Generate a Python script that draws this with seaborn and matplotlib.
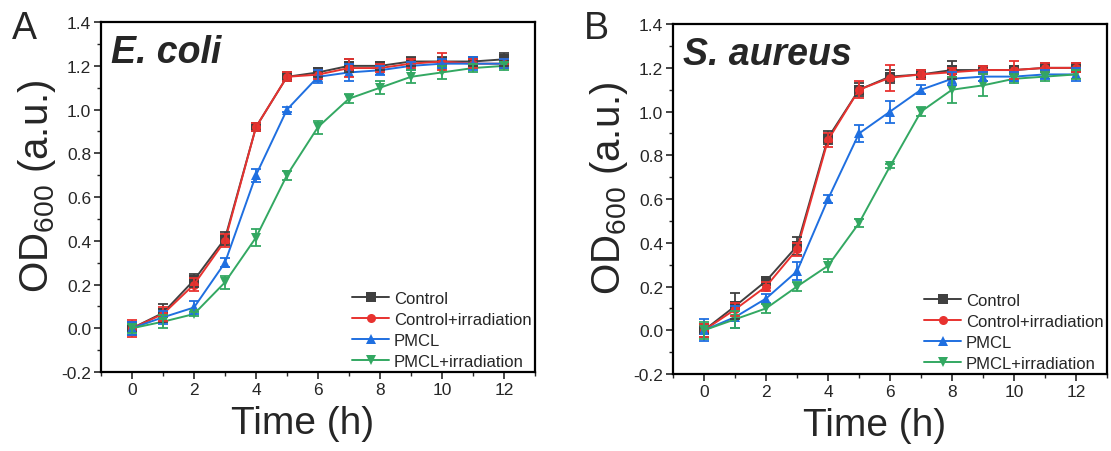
import numpy as np
import pandas as pd
import seaborn as sns
import matplotlib.pyplot as plt
from matplotlib.ticker import MultipleLocator

# time points (h)
time_h = [0, 1, 2, 3, 4, 5, 6, 7, 8, 9, 10, 11, 12]
groups = ["Control", "Control+irradiation", "PMCL", "PMCL+irradiation"]

# E. coli OD600 means and error bars
ecoli_control = [0.00, 0.07, 0.22, 0.41, 0.92, 1.15, 1.17, 1.20, 1.20, 1.22, 1.22, 1.22, 1.23]
ecoli_control_irr = [0.00, 0.065, 0.20, 0.40, 0.92, 1.15, 1.16, 1.19, 1.19, 1.21, 1.22, 1.21, 1.21]
ecoli_pmcl = [0.00, 0.05, 0.095, 0.30, 0.70, 1.00, 1.15, 1.17, 1.18, 1.20, 1.21, 1.21, 1.21]
ecoli_pmcl_irr = [0.00, 0.03, 0.065, 0.21, 0.415, 0.70, 0.92, 1.05, 1.10, 1.15, 1.17, 1.19, 1.20]
ecoli_control_err = [0.03, 0.04, 0.03, 0.03, 0.02, 0.02, 0.02, 0.03, 0.02, 0.02, 0.02, 0.02, 0.03]
ecoli_control_irr_err = [0.04, 0.03, 0.03, 0.03, 0.02, 0.02, 0.02, 0.04, 0.02, 0.02, 0.04, 0.02, 0.02]
ecoli_pmcl_err = [0.03, 0.03, 0.03, 0.02, 0.03, 0.01, 0.03, 0.04, 0.02, 0.02, 0.02, 0.03, 0.02]
ecoli_pmcl_irr_err = [0.02, 0.03, 0.01, 0.03, 0.04, 0.02, 0.03, 0.02, 0.03, 0.03, 0.03, 0.02, 0.02]

# S. aureus OD600 means and error bars
saureus_control = [0.00, 0.11, 0.225, 0.385, 0.88, 1.10, 1.16, 1.17, 1.19, 1.19, 1.19, 1.20, 1.20]
saureus_control_irr = [0.00, 0.095, 0.20, 0.37, 0.87, 1.10, 1.155, 1.17, 1.18, 1.19, 1.19, 1.20, 1.20]
saureus_pmcl = [0.00, 0.06, 0.145, 0.27, 0.60, 0.90, 1.00, 1.10, 1.15, 1.16, 1.16, 1.17, 1.17]
saureus_pmcl_irr = [0.00, 0.05, 0.10, 0.20, 0.295, 0.49, 0.75, 1.00, 1.10, 1.12, 1.15, 1.16, 1.17]
saureus_control_err = [0.03, 0.06, 0.01, 0.04, 0.03, 0.03, 0.03, 0.02, 0.04, 0.02, 0.02, 0.02, 0.02]
saureus_control_irr_err = [0.03, 0.03, 0.02, 0.03, 0.03, 0.04, 0.06, 0.02, 0.02, 0.02, 0.04, 0.02, 0.02]
saureus_pmcl_err = [0.05, 0.05, 0.02, 0.04, 0.02, 0.04, 0.05, 0.02, 0.03, 0.02, 0.02, 0.02, 0.03]
saureus_pmcl_irr_err = [0.04, 0.04, 0.02, 0.02, 0.03, 0.02, 0.01, 0.02, 0.06, 0.05, 0.02, 0.02, 0.02]

colors = {"Control": "#404040", "Control+irradiation": "#e8322f",
          "PMCL": "#1f6fe0", "PMCL+irradiation": "#33a862"}
markers = {"Control": "s", "Control+irradiation": "o",
           "PMCL": "^", "PMCL+irradiation": "v"}


def make_frame(means, errs):
    rows = []
    for g, m, e in zip(groups, means, errs):
        for t, v, s in zip(time_h, m, e):
            rows.append({"Time": t, "OD": v, "err": s, "Group": g})
    return pd.DataFrame(rows)


ecoli = make_frame([ecoli_control, ecoli_control_irr, ecoli_pmcl, ecoli_pmcl_irr],
                   [ecoli_control_err, ecoli_control_irr_err, ecoli_pmcl_err, ecoli_pmcl_irr_err])
saureus = make_frame([saureus_control, saureus_control_irr, saureus_pmcl, saureus_pmcl_irr],
                     [saureus_control_err, saureus_control_irr_err, saureus_pmcl_err, saureus_pmcl_irr_err])

sns.set_style("white")
plt.rcParams['font.family'] = ['Liberation Sans', 'DejaVu Sans']
plt.rcParams['mathtext.fontset'] = 'custom'
plt.rcParams['mathtext.rm'] = 'Liberation Sans'

fig = plt.figure(figsize=(11.11, 4.52), dpi=100)
ax_a = fig.add_axes([0.0909, 0.1748, 0.3906, 0.774])
ax_b = fig.add_axes([0.6058, 0.1704, 0.3906, 0.774])


def draw_panel(ax, df, title, letter):
    sns.lineplot(data=df, x="Time", y="OD", hue="Group", style="Group",
                 palette=colors, markers=markers, dashes=False, ax=ax,
                 linewidth=1.4, markersize=6.5, markeredgewidth=0)
    for g in groups:
        sub = df[df["Group"] == g]
        ax.errorbar(sub["Time"], sub["OD"], yerr=sub["err"], fmt="none",
                    ecolor=colors[g], elinewidth=1.3, capsize=3.5, capthick=1.3)
    ax.set_xlim(-1, 13)
    ax.set_ylim(-0.2, 1.4)
    ax.xaxis.set_major_locator(MultipleLocator(2))
    ax.xaxis.set_minor_locator(MultipleLocator(1))
    ax.yaxis.set_major_locator(MultipleLocator(0.2))
    ax.yaxis.set_minor_locator(MultipleLocator(0.1))
    ax.yaxis.set_major_formatter(plt.FuncFormatter(lambda v, p: f"{v:.1f}"))
    ax.tick_params(which="both", direction="out", bottom=True, left=True,
                   top=False, right=False)
    ax.tick_params(which="major", length=5, width=1.2, labelsize=12.5, pad=2)
    ax.tick_params(which="minor", length=3, width=1.0)
    for sp in ax.spines.values():
        sp.set_linewidth(1.6)
        sp.set_color("black")
    ax.set_xlabel("Time (h)", fontsize=28, labelpad=6)
    ax.xaxis.label.set_x(0.465)
    ax.set_ylabel("OD$_{600}$ (a.u.)", fontsize=29)
    ax.yaxis.set_label_coords(-0.1, 0.535)
    ax.text(0.022, 0.965, title, transform=ax.transAxes, fontsize=27,
            fontweight="bold", style="italic", va="top", ha="left")
    bbox = ax.get_position()
    fig.text(bbox.x0 - 0.08, 0.975, letter, fontsize=27, va="top", ha="left")
    ax.legend(loc="lower right", frameon=False, fontsize=12,
              handlelength=2.2, labelspacing=0.35, handletextpad=0.3,
              borderpad=0.2, borderaxespad=0, bbox_to_anchor=(1.0, 0.0))


draw_panel(ax_a, ecoli, "E. coli", "A")
draw_panel(ax_b, saureus, "S. aureus", "B")

fig.savefig("out.png", dpi=100)
